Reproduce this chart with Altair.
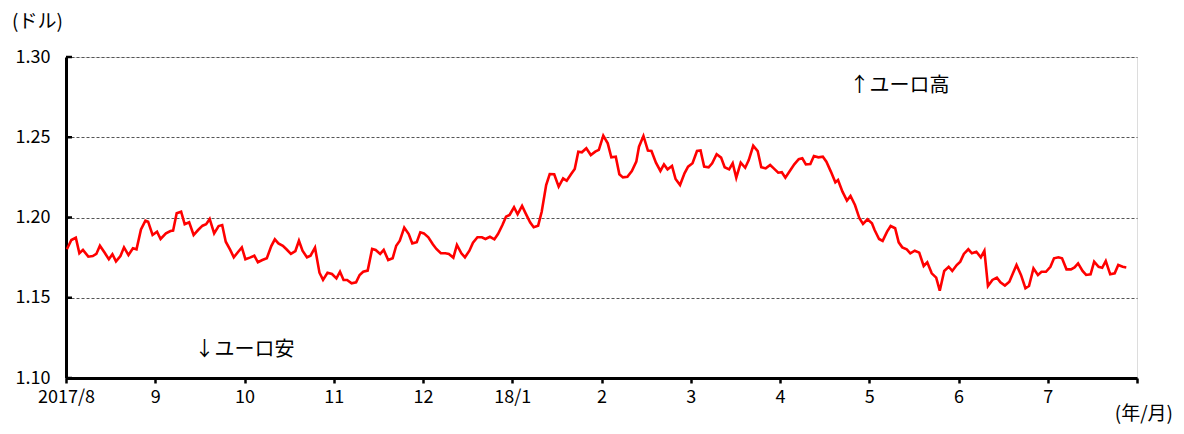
import altair as alt
import pandas as pd

# months elapsed since 2017/8 (0 = start of Aug 2017, 12 = end of Jul 2018)
months = [
    0.01, 0.06, 0.11, 0.15, 0.19, 0.25, 0.30, 0.34, 0.38, 0.43, 0.48, 0.52, 0.56, 0.61, 0.65, 0.70,
    0.75, 0.79, 0.84, 0.89, 0.92, 0.97, 1.02, 1.06, 1.12, 1.17, 1.20, 1.24, 1.29, 1.33, 1.38, 1.43,
    1.48, 1.53, 1.57, 1.61, 1.66, 1.71, 1.75, 1.79, 1.84, 1.88, 1.93, 1.97, 2.01, 2.06, 2.11, 2.15,
    2.20, 2.25, 2.30, 2.34, 2.38, 2.43, 2.47, 2.52, 2.57, 2.61, 2.65, 2.70, 2.74, 2.79, 2.84, 2.88,
    2.93, 2.98, 3.03, 3.07, 3.11, 3.15, 3.20, 3.25, 3.29, 3.33, 3.38, 3.43, 3.47, 3.52, 3.56, 3.61,
    3.66, 3.70, 3.74, 3.79, 3.84, 3.88, 3.93, 3.97, 4.01, 4.06, 4.11, 4.15, 4.20, 4.25, 4.29, 4.34,
    4.38, 4.43, 4.47, 4.52, 4.56, 4.61, 4.66, 4.70, 4.75, 4.80, 4.84, 4.89, 4.93, 4.97, 5.02, 5.06,
    5.11, 5.15, 5.20, 5.24, 5.29, 5.33, 5.38, 5.42, 5.47, 5.52, 5.57, 5.61, 5.66, 5.70, 5.74, 5.78,
    5.83, 5.88, 5.93, 5.97, 6.02, 6.07, 6.11, 6.16, 6.20, 6.24, 6.29, 6.34, 6.39, 6.42, 6.47, 6.52,
    6.56, 6.61, 6.66, 6.70, 6.74, 6.79, 6.83, 6.88, 6.93, 6.97, 7.02, 7.07, 7.11, 7.15, 7.20, 7.24,
    7.29, 7.34, 7.38, 7.43, 7.47, 7.51, 7.56, 7.61, 7.65, 7.70, 7.75, 7.79, 7.84, 7.89, 7.93, 7.98,
    8.02, 8.06, 8.11, 8.16, 8.21, 8.25, 8.29, 8.34, 8.38, 8.43, 8.48, 8.52, 8.57, 8.62, 8.65, 8.70,
    8.75, 8.79, 8.84, 8.89, 8.93, 8.98, 9.03, 9.06, 9.11, 9.15, 9.20, 9.24, 9.29, 9.33, 9.37, 9.42,
    9.46, 9.51, 9.56, 9.61, 9.65, 9.70, 9.75, 9.79, 9.84, 9.89, 9.93, 9.98, 10.02, 10.06, 10.11, 10.15,
    10.20, 10.25, 10.29, 10.33, 10.38, 10.43, 10.47, 10.52, 10.57, 10.61, 10.65, 10.70, 10.75, 10.79, 10.84, 10.89,
    10.93, 10.98, 11.03, 11.07, 11.12, 11.16, 11.21, 11.26, 11.30, 11.34, 11.39, 11.43, 11.48, 11.52, 11.57, 11.61,
    11.65, 11.70, 11.75, 11.79, 11.84, 11.88,
]

# EUR/USD rate (dollars per euro)
rates = [
    1.1802, 1.1860, 1.1874, 1.1777, 1.1798, 1.1756, 1.1760, 1.1773, 1.1824, 1.1783, 1.1740, 1.1771, 1.1727, 1.1760, 1.1814, 1.1766,
    1.1808, 1.1802, 1.1926, 1.1980, 1.1974, 1.1891, 1.1912, 1.1866, 1.1901, 1.1916, 1.1918, 1.2026, 1.2036, 1.1958, 1.1970, 1.1891,
    1.1922, 1.1949, 1.1958, 1.1991, 1.1901, 1.1947, 1.1953, 1.1849, 1.1798, 1.1752, 1.1787, 1.1814, 1.1740, 1.1750, 1.1762, 1.1721,
    1.1735, 1.1746, 1.1822, 1.1864, 1.1839, 1.1824, 1.1802, 1.1773, 1.1791, 1.1855, 1.1793, 1.1752, 1.1762, 1.1812, 1.1656, 1.1611,
    1.1656, 1.1648, 1.1621, 1.1662, 1.1611, 1.1611, 1.1590, 1.1596, 1.1642, 1.1662, 1.1669, 1.1804, 1.1798, 1.1773, 1.1798, 1.1735,
    1.1746, 1.1824, 1.1855, 1.1937, 1.1897, 1.1839, 1.1846, 1.1908, 1.1901, 1.1877, 1.1833, 1.1804, 1.1777, 1.1777, 1.1773, 1.1750,
    1.1829, 1.1777, 1.1752, 1.1793, 1.1843, 1.1877, 1.1877, 1.1866, 1.1880, 1.1864, 1.1897, 1.1953, 1.2005, 1.2016, 1.2064, 1.2020,
    1.2072, 1.2026, 1.1970, 1.1939, 1.1949, 1.2036, 1.2202, 1.2271, 1.2269, 1.2192, 1.2244, 1.2229, 1.2271, 1.2302, 1.2410, 1.2406,
    1.2431, 1.2389, 1.2410, 1.2421, 1.2510, 1.2462, 1.2375, 1.2379, 1.2269, 1.2250, 1.2254, 1.2290, 1.2348, 1.2441, 1.2508, 1.2417,
    1.2414, 1.2342, 1.2290, 1.2331, 1.2300, 1.2321, 1.2240, 1.2202, 1.2275, 1.2317, 1.2338, 1.2414, 1.2417, 1.2317, 1.2313, 1.2338,
    1.2394, 1.2373, 1.2313, 1.2300, 1.2338, 1.2248, 1.2342, 1.2310, 1.2358, 1.2447, 1.2414, 1.2313, 1.2306, 1.2327, 1.2306, 1.2279,
    1.2282, 1.2248, 1.2290, 1.2331, 1.2363, 1.2369, 1.2331, 1.2333, 1.2383, 1.2375, 1.2379, 1.2348, 1.2286, 1.2219, 1.2234, 1.2161,
    1.2105, 1.2134, 1.2078, 1.1995, 1.1960, 1.1989, 1.1964, 1.1922, 1.1866, 1.1854, 1.1912, 1.1947, 1.1933, 1.1845, 1.1814, 1.1802,
    1.1777, 1.1793, 1.1781, 1.1698, 1.1721, 1.1652, 1.1625, 1.1544, 1.1667, 1.1693, 1.1667, 1.1704, 1.1725, 1.1773, 1.1802, 1.1777,
    1.1787, 1.1752, 1.1793, 1.1573, 1.1611, 1.1625, 1.1596, 1.1576, 1.1600, 1.1652, 1.1704, 1.1642, 1.1559, 1.1573, 1.1683, 1.1642,
    1.1662, 1.1662, 1.1693, 1.1746, 1.1752, 1.1746, 1.1677, 1.1677, 1.1689, 1.1714, 1.1667, 1.1642, 1.1646, 1.1725, 1.1693, 1.1687,
    1.1729, 1.1646, 1.1652, 1.1704, 1.1693, 1.1689,
]

tick_months = list(range(13))
tick_labels = ["2017/8", "9", "10", "11", "12", "18/1", "2", "3", "4", "5", "6", "7", ""]
y_ticks = [1.10, 1.15, 1.20, 1.25, 1.30]

notes_text = ["↑ユーロ高", "↓ユーロ安"]
notes_month = [9.34, 2.0]
notes_rate = [1.282, 1.1174]

x_unit_text = "(年/月)"
y_unit_text = "(ドル)"

FONT = "Noto Sans CJK JP"

df = pd.DataFrame({"m": months, "rate": rates})
ticks_df = pd.DataFrame({"v": y_ticks})
notes_df = pd.DataFrame({"t": notes_text, "m": notes_month, "rate": notes_rate})
xunit_df = pd.DataFrame({"t": [x_unit_text]})
yunit_df = pd.DataFrame({"t": [y_unit_text]})

label_map = "{" + ",".join(f"'{k}':'{v}'" for k, v in zip(tick_months, tick_labels)) + "}"

x_scale = alt.Scale(domain=[0, 12], nice=False, zero=False)
y_scale = alt.Scale(domain=[1.10, 1.30], nice=False, zero=False)

line = alt.Chart(df).mark_line(color="#FF0000", strokeWidth=2.6, clip=True).encode(
    x=alt.X(
        "m:Q",
        scale=x_scale,
        axis=alt.Axis(
            values=tick_months,
            labelExpr=f"{label_map}[datum.value]",
            grid=False,
            domainColor="black",
            domainWidth=3,
            tickColor="black",
            tickWidth=2.5,
            tickSize=5,
            labelPadding=5,
            labelFont=FONT,
            labelFontSize=18,
            labelColor="black",
            labelFlush=False,
            labelOverlap=False,
            title="",
        ),
    ),
    y=alt.Y(
        "rate:Q",
        scale=y_scale,
        axis=alt.Axis(
            values=y_ticks,
            format=".2f",
            grid=True,
            gridColor="#555555",
            gridDash=[3, 2],
            gridWidth=1,
            domainColor="black",
            domainWidth=3,
            ticks=False,
            labelPadding=16,
            labelFont=FONT,
            labelFontSize=18,
            labelColor="black",
            title="",
        ),
    ),
)

inner_ticks = alt.Chart(ticks_df).mark_rule(color="black", strokeWidth=2.5).encode(
    y=alt.Y("v:Q", scale=y_scale),
    x=alt.value(0),
    x2=alt.value(6),
)

notes = alt.Chart(notes_df).mark_text(
    font=FONT, fontSize=20, color="black", align="center", baseline="middle"
).encode(
    x=alt.X("m:Q", scale=x_scale),
    y=alt.Y("rate:Q", scale=y_scale),
    text="t:N",
)

x_unit = alt.Chart(xunit_df).mark_text(
    font=FONT, fontSize=19, color="black", align="right", baseline="middle"
).encode(
    x=alt.value(1107),
    y=alt.value(357),
    text="t:N",
)

y_unit = alt.Chart(yunit_df).mark_text(
    font=FONT, fontSize=19, color="black", align="left", baseline="middle"
).encode(
    x=alt.value(-54),
    y=alt.value(-35),
    text="t:N",
)

chart = (
    alt.layer(line, inner_ticks, notes, x_unit, y_unit)
    .properties(
        width=1071,
        height=321,
        autosize=alt.AutoSizeParams(type="none"),
        padding={"left": 58, "top": 49, "right": 39, "bottom": 48},
    )
    .configure_view(stroke=None)
    .configure(background="white")
)

chart.save("out.html", embed_options={"renderer": "svg", "actions": False})
